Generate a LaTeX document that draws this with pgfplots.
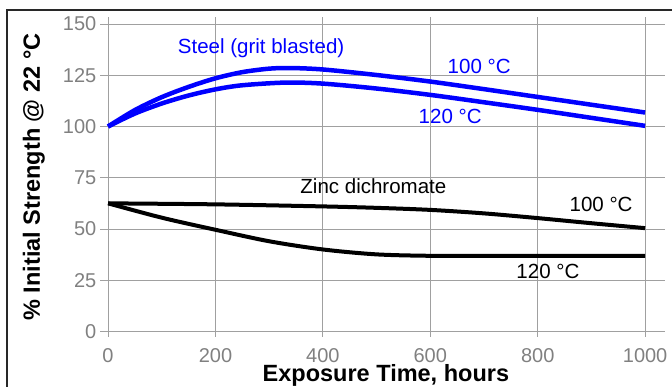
\documentclass[border=0pt]{standalone}
\usepackage{pgfplots}
\pgfplotsset{compat=1.18}
\usepackage{fontspec}
\setmainfont{Liberation Sans}
\definecolor{gridgray}{RGB}{160,160,160}
\definecolor{ticklab}{RGB}{128,128,128}
\definecolor{framegray}{RGB}{40,40,40}
\definecolor{steelblue}{RGB}{0,0,255}
\begin{document}
\begin{tikzpicture}[x=1pt,y=1pt]
\useasboundingbox (0,0) rectangle (672,387);
\draw[framegray, line width=2pt] (7,-2) -- (7,377) -- (674,377);
\begin{axis}[
  at={(100pt,50pt)}, anchor=south west,
  width=565pt, height=320pt, scale only axis,
  xmin=-15, xmax=1037, ymin=-2.7, ymax=153.4,
  axis line style={draw=none},
  major tick length=0pt,
  xtick={0,200,400,600,800,1000},
  ytick={0,25,50,75,100,125,150},
  grid=major,
  major grid style={gridgray, line width=0.9pt},
  /pgf/number format/assume math mode=true,
  /pgf/number format/set thousands separator={},
  tick label style={ticklab, font=\fontsize{20}{22}\selectfont},
  xticklabel style={inner sep=0pt, anchor=north, yshift=-11pt},
  yticklabel style={inner sep=0pt, anchor=east, xshift=-3.5pt},
  xlabel={Exposure Time, hours},
  ylabel={\% Initial Strength @ 22 °C},
  xlabel style={font=\fontsize{23.5}{26}\selectfont\bfseries, at={(axis description cs:0.506,-0.1397)}, anchor=base},
  ylabel style={font=\fontsize{23.5}{26}\selectfont\bfseries, at={(axis description cs:-0.1062,0.5)}, anchor=base},
  clip=false,
]
\addplot[steelblue, line width=4.5pt, smooth] coordinates {
(0,100) (50,108) (100,114.3) (150,119.3) (200,123.5) (250,126.5) (300,128.2) (340,128.5) (400,127.8) (500,125.1) (600,121.9) (700,118.2) (800,114.4) (900,110.6) (1000,106.8)};
\addplot[steelblue, line width=4.5pt, smooth] coordinates {
(0,100) (50,106.3) (100,111.2) (150,115.1) (200,118.1) (250,120.1) (330,121.4) (400,120.9) (500,118.5) (600,115.4) (700,111.8) (800,108.1) (900,104.2) (1000,100.3)};
\addplot[black, line width=4pt, smooth] coordinates {
(0,62.5) (200,62) (400,61) (500,60.3) (600,59.3) (700,57.6) (800,55.3) (900,52.8) (1000,50.4)};
\addplot[black, line width=4pt, smooth] coordinates {
(0,62.5) (100,55.5) (200,49.6) (300,44) (400,40) (500,37.6) (600,36.9) (700,36.9) (800,36.9) (900,36.9) (1000,36.9)};
\node[steelblue, font=\fontsize{20.5}{22}\selectfont] at (axis cs:285,138.2) {Steel (grit blasted)};
\node[steelblue, font=\fontsize{20.5}{22}\selectfont] at (axis cs:691,129.4) {100 °C};
\node[steelblue, font=\fontsize{20.5}{22}\selectfont] at (axis cs:637,105.1) {120 °C};
\node[black, font=\fontsize{20.5}{22}\selectfont] at (axis cs:494,71) {Zinc dichromate};
\node[black, font=\fontsize{20.5}{22}\selectfont] at (axis cs:918,62.2) {100 °C};
\node[black, font=\fontsize{20.5}{22}\selectfont] at (axis cs:819,29.3) {120 °C};
\end{axis}
\end{tikzpicture}
\end{document}
